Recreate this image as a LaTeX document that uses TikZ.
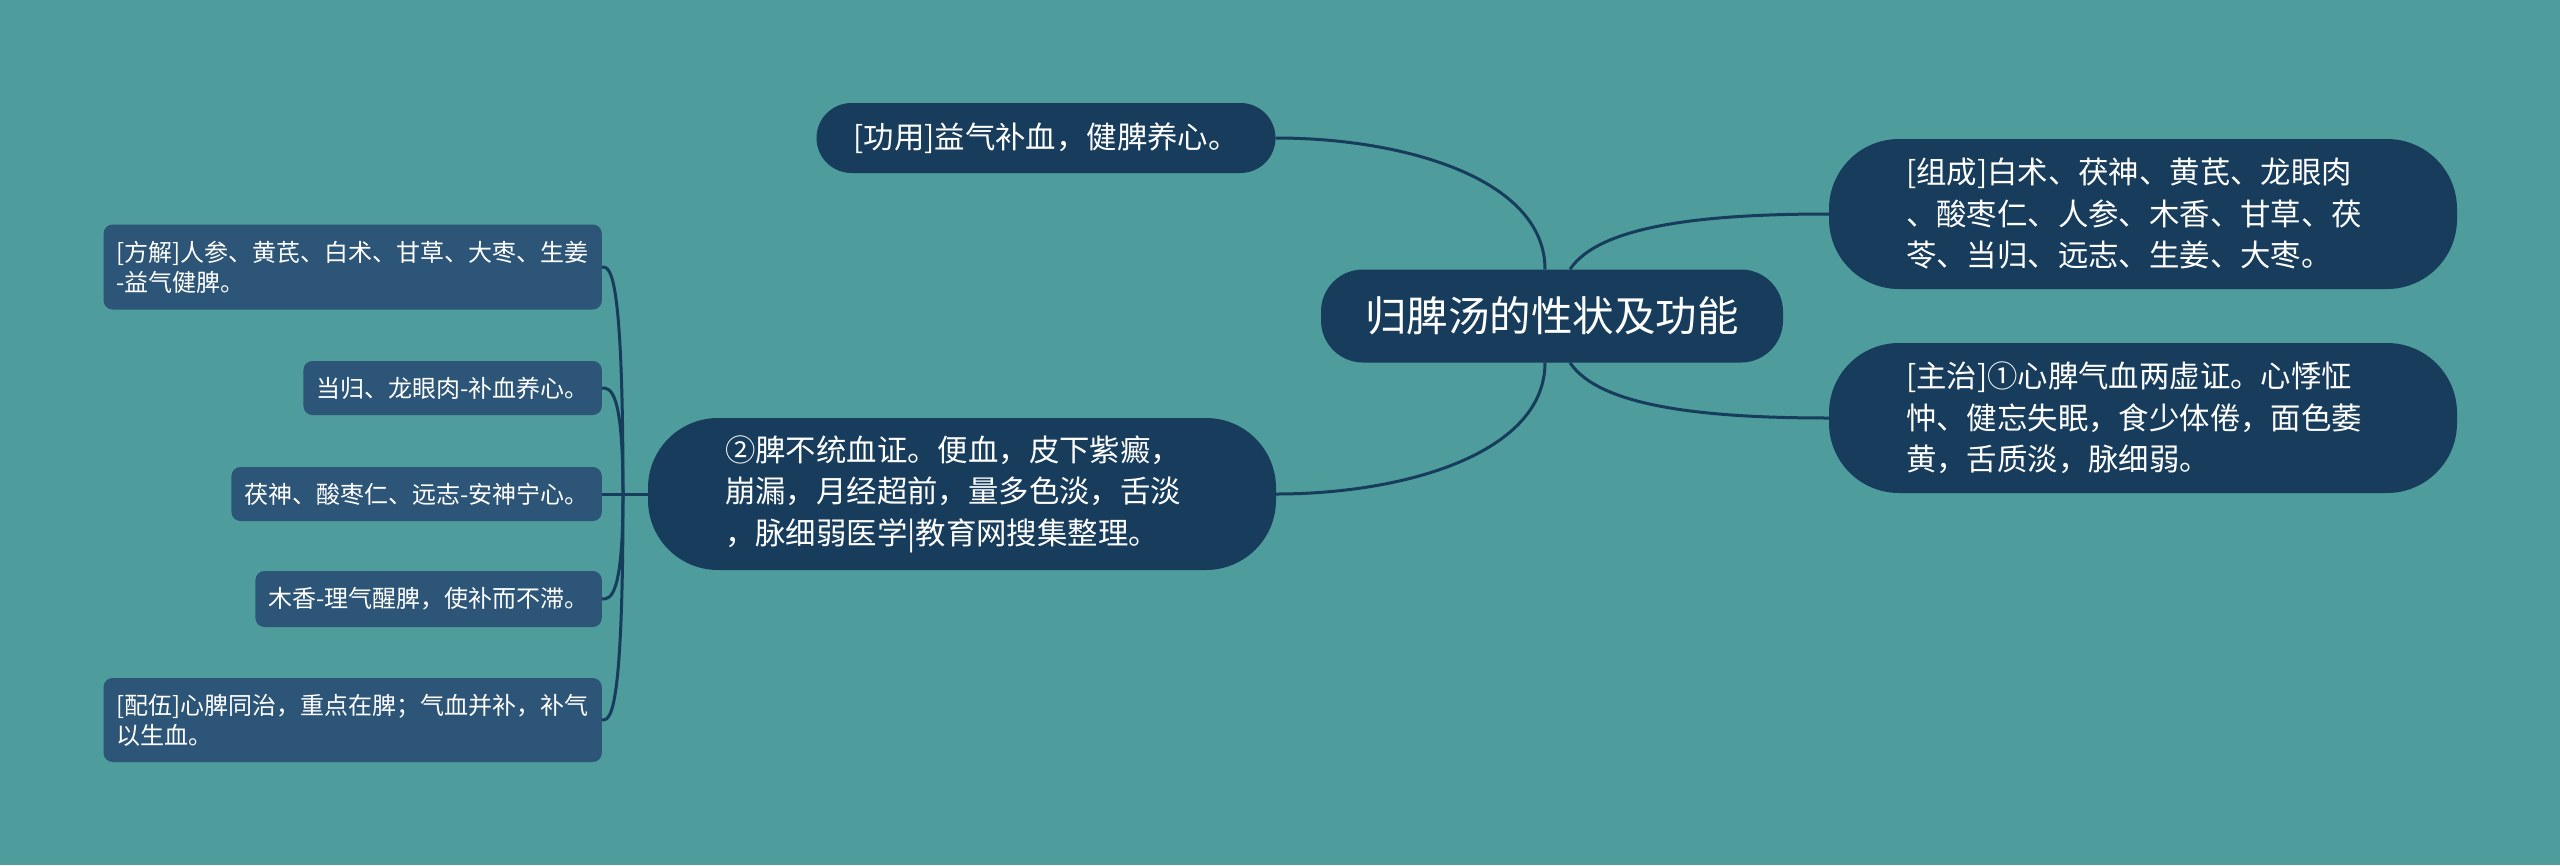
\documentclass[tikz,border=0pt]{standalone}
\usepackage{fontspec}
\setmainfont{Noto Sans CJK SC}
\definecolor{bgteal}{HTML}{4E9C9C}
\definecolor{navy}{HTML}{173C5C}
\definecolor{slate}{HTML}{2D5577}
\tikzset{root/.style={fill=navy,text=white,rounded corners=42pt,minimum width=462pt,
           minimum height=93pt,font=\fontsize{41.5}{48}\selectfont},
         topic/.style={fill=navy,text=white,align=left,font=\fontsize{30.4}{41.5}\selectfont},
         wide/.style={rounded corners=70pt,minimum width=628pt,minimum height=150pt,text width=474pt},
         leaf/.style={fill=slate,text=white,rounded corners=9pt,align=left,anchor=east,
           inner xsep=13pt,font=\fontsize{24}{30}\selectfont},
         link/.style={draw=navy,line width=3pt}}

\begin{document}
\begin{tikzpicture}[x=1pt,y=-1pt]
\fill[bgteal] (0,0) rectangle (2560,865);
\node[root] (root) at (1552,316) {归脾汤的性状及功能};
\node[topic,rounded corners=35pt,minimum width=459pt,minimum height=70pt] (gongyong) at (1046,138)
  {[功用]益气补血，健脾养心。};
\node[topic,wide] (zucheng) at (2143,214)
  {[组成]白术、茯神、黄芪、龙眼肉\\、酸枣仁、人参、木香、甘草、茯\\苓、当归、远志、生姜、大枣。};
\node[topic,wide] (zhuzhi) at (2143,418)
  {[主治]①心脾气血两虚证。心悸怔\\忡、健忘失眠，食少体倦，面色萎\\黄，舌质淡，脉细弱。};
\node[topic,wide,minimum height=152pt] (pibutong) at (962,494)
  {②脾不统血证。便血，皮下紫癜，\\崩漏，月经超前，量多色淡，舌淡\\，脉细弱医学|教育网搜集整理。};
\node[leaf,minimum height=85pt] (fangjie) at (602,267) {[方解]人参、黄芪、白术、甘草、大枣、生姜\\-益气健脾。};
\node[leaf,minimum height=54pt] (danggui) at (602,388) {当归、龙眼肉-补血养心。};
\node[leaf,minimum height=54pt] (fushen) at (602,494) {茯神、酸枣仁、远志-安神宁心。};
\node[leaf,minimum height=56pt] (muxiang) at (602,599) {木香-理气醒脾，使补而不滞。};
\node[leaf,minimum height=84pt] (peiwu) at (602,720) {[配伍]心脾同治，重点在脾；气血并补，补气\\以生血。};
\coordinate (fork) at (623,494);
\draw[link] ([xshift=-7pt]root.north) .. controls +(0,-90) and +(130,0) .. (gongyong.east);
\draw[link] ([xshift=-7pt]root.south) .. controls +(0,90) and +(130,0) .. (pibutong.east);
\draw[link] ([xshift=18pt]root.north) .. controls +(30,-45) and +(-120,0) .. (zucheng.west);
\draw[link] ([xshift=18pt]root.south) .. controls +(30,45) and +(-120,0) .. (zhuzhi.west);
\draw[link] (pibutong.west) -- (fork);
\foreach \n in {fangjie,danggui,fushen,muxiang,peiwu}
  \draw[link] (fork) .. controls (fork |- \n.east) and +(8,0) .. (\n.east);
\end{tikzpicture}
\end{document}
